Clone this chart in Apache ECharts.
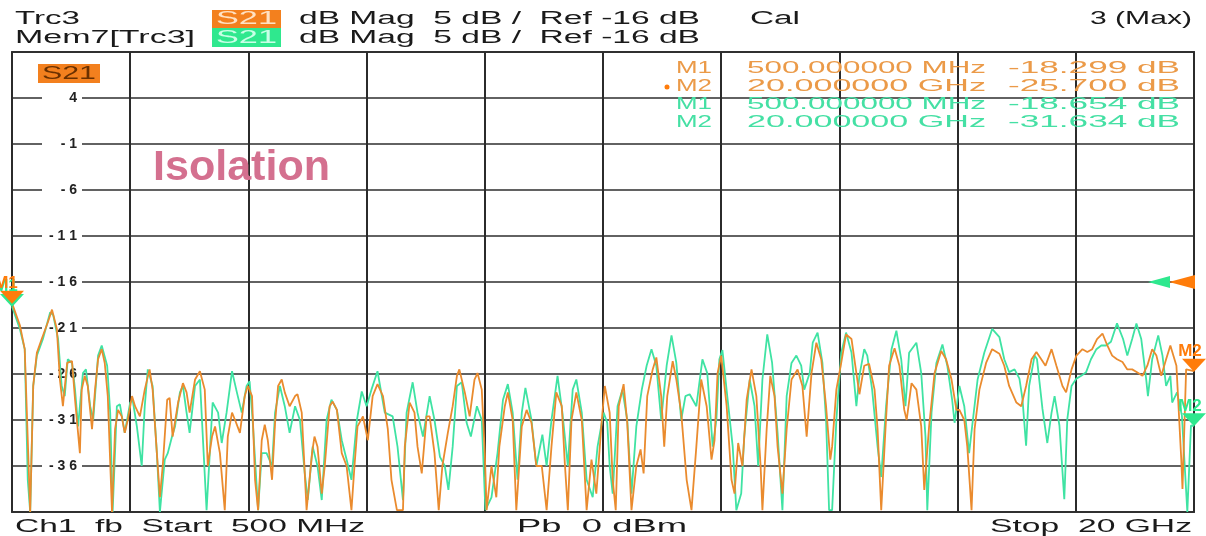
<!DOCTYPE html>
<html>
<head>
<meta charset="utf-8">
<title>S21 Isolation</title>
<script src="https://cdn.jsdelivr.net/npm/echarts@6/dist/echarts.min.js"></script>
<style>
    html, body { margin: 0; padding: 0; background: #fff; }
    #chart { width: 1206px; height: 536px; }
</style>
</head>
<body>
<div id="chart"></div>
<script>
// Trc3 (live trace), frequency in GHz / level in dB
const trcFreq = [
    0.50, 0.63, 0.71, 0.80, 0.85, 0.91, 0.99, 1.09, 1.16, 1.24,
    1.29, 1.34, 1.41, 1.49, 1.54, 1.62, 1.65, 1.70, 1.75, 1.82,
    1.87, 1.92, 1.98, 2.03, 2.08, 2.15, 2.20, 2.25, 2.31, 2.36,
    2.41, 2.48, 2.53, 2.61, 2.69, 2.77, 2.82, 2.89, 2.94, 2.99,
    3.06, 3.10, 3.15, 3.24, 3.32, 3.38, 3.43, 3.52, 3.60, 3.68,
    3.73, 3.80, 3.85, 3.93, 4.01, 4.06, 4.13, 4.18, 4.26, 4.34,
    4.39, 4.46, 4.51, 4.56, 4.62, 4.67, 4.72, 4.79, 4.84, 4.89,
    4.95, 5.00, 5.08, 5.17, 5.21, 5.28, 5.33, 5.36, 5.45, 5.49,
    5.54, 5.61, 5.66, 5.74, 5.79, 5.86, 5.94, 6.02, 6.10, 6.15,
    6.20, 6.29, 6.37, 6.45, 6.53, 6.62, 6.70, 6.76, 6.85, 6.95,
    6.98, 7.06, 7.14, 7.19, 7.26, 7.34, 7.39, 7.47, 7.54, 7.60,
    7.69, 7.77, 7.84, 7.88, 7.97, 8.05, 8.13, 8.18, 8.25, 8.30,
    8.33, 8.41, 8.49, 8.54, 8.63, 8.68, 8.76, 8.82, 8.91, 8.99,
    9.07, 9.15, 9.24, 9.32, 9.40, 9.48, 9.57, 9.62, 9.67, 9.73,
    9.81, 9.90, 9.98, 10.06, 10.14, 10.23, 10.28, 10.36, 10.41, 10.46,
    10.51, 10.59, 10.65, 10.72, 10.80, 10.87, 10.92, 10.98, 11.07, 11.13,
    11.21, 11.26, 11.31, 11.40, 11.46, 11.54, 11.63, 11.71, 11.79, 11.87,
    11.96, 12.04, 12.09, 12.14, 12.20, 12.29, 12.37, 12.42, 12.48, 12.55,
    12.62, 12.70, 12.78, 12.85, 12.88, 12.95, 13.01, 13.08, 13.13, 13.21,
    13.28, 13.36, 13.46, 13.54, 13.61, 13.69, 13.77, 13.85, 13.93, 14.00,
    14.03, 14.10, 14.18, 14.26, 14.35, 14.43, 14.48, 14.56, 14.64, 14.73,
    14.78, 14.84, 14.91, 14.97, 15.06, 15.14, 15.22, 15.26, 15.34, 15.42,
    15.50, 15.55, 15.63, 15.72, 15.83, 15.91, 16.00, 16.08, 16.13, 16.21,
    16.26, 16.33, 16.38, 16.46, 16.57, 16.67, 16.79, 16.87, 16.95, 17.07,
    17.15, 17.23, 17.32, 17.40, 17.48, 17.55, 17.65, 17.73, 17.83, 17.89,
    17.98, 18.06, 18.16, 18.24, 18.32, 18.40, 18.49, 18.57, 18.65, 18.73,
    18.82, 18.90, 18.98, 19.06, 19.15, 19.23, 19.31, 19.38, 19.46, 19.54,
    19.61, 19.71, 19.79, 19.81, 19.87, 20.00
];
const trcDb = [
    -18.3, -20.7, -23.3, -41, -27.3, -23.7, -22.2, -20.4, -19, -21.1,
    -26.6, -29.5, -24.8, -24.6, -28.8, -34.6, -27.7, -26.2, -27.3, -32,
    -27.7, -24.4, -23.3, -24.8, -28.4, -41, -32, -29.9, -30.6, -32.4,
    -31, -28.4, -29.5, -30.6, -27.7, -25.5, -27.7, -34.6, -39.4, -35.7,
    -28.8, -28.6, -32.8, -29.1, -27, -28, -30.2, -26.6, -25.7, -27.7,
    -36, -32.8, -31.7, -34.6, -40.8, -32.8, -30.2, -31, -32.4, -28.4,
    -27.3, -28.4, -37.5, -40.8, -33.2, -31.5, -33.2, -37.5, -31.3, -27.3,
    -26.6, -28, -29.5, -28.4, -28.2, -30.2, -36.8, -40.8, -34.6, -32.8,
    -33.9, -39, -36, -29.5, -29, -29.9, -34.6, -36, -40.8, -36,
    -31.7, -30.6, -33.2, -28.4, -27.1, -28.4, -32, -37.5, -40.8, -40.8,
    -33.9, -29.1, -30.2, -33.9, -36.8, -30.6, -30.6, -34.6, -40.8, -36,
    -32.4, -29.5, -26.2, -25.5, -28, -30.6, -26.6, -25.9, -27.7, -34.6,
    -40.8, -36, -39.4, -33.9, -29.5, -28, -31, -40.8, -31.7, -29.9,
    -31.3, -36, -36, -40.8, -33.9, -28, -29.5, -35.7, -40.8, -31,
    -28, -31, -40.8, -35.3, -39, -31, -27.3, -30.2, -37.5, -40.8,
    -29.5, -27.1, -31.3, -40.8, -36, -34.2, -36.8, -28.4, -25.5, -24.2,
    -28.4, -33.9, -28.4, -24.6, -26.6, -30.2, -37.5, -40.8, -33.9, -26.6,
    -29.5, -35.3, -33.2, -25.9, -24, -29.5, -37.5, -39, -33.5, -36,
    -28.8, -25.5, -28.4, -36, -40.8, -32, -26.2, -28.4, -33.9, -39,
    -32, -26.6, -25.5, -27.3, -32.8, -25.9, -22.6, -24.4, -29.5, -35.3,
    -33.9, -27.7, -24.8, -21.7, -22.2, -25.9, -28.2, -25.1, -24.9, -27.7,
    -32, -40.8, -32, -25.1, -23.2, -25.1, -29.9, -31, -27, -27.7,
    -31.7, -38.6, -31.7, -25.9, -23.5, -24.4, -26.6, -29.9, -29.9, -31,
    -33.9, -40.8, -32, -27.7, -24.8, -23.3, -23.8, -25.1, -27.3, -29.1,
    -29.5, -27.3, -24.4, -23.6, -24.4, -25.1, -23.3, -25.1, -27.3, -28,
    -25.5, -24, -23.3, -23.6, -23.3, -22.2, -21.6, -22.9, -24, -24.4,
    -24.7, -25.5, -25.5, -25.8, -26.2, -25.1, -23.3, -24, -26.2, -24.4,
    -22.9, -25.1, -35.3, -38.5, -25.5, -25.7
];

// Mem7[Trc3] (memory trace)
const memFreq = [
    0.50, 0.63, 0.71, 0.76, 0.80, 0.85, 0.91, 1.01, 1.13, 1.18,
    1.26, 1.32, 1.37, 1.42, 1.49, 1.54, 1.59, 1.67, 1.72, 1.79,
    1.84, 1.92, 1.98, 2.07, 2.12, 2.16, 2.23, 2.28, 2.36, 2.45,
    2.49, 2.56, 2.64, 2.69, 2.74, 2.82, 2.89, 2.94, 3.02, 3.07,
    3.14, 3.19, 3.27, 3.32, 3.38, 3.43, 3.52, 3.60, 3.71, 3.81,
    3.90, 3.96, 4.04, 4.13, 4.21, 4.29, 4.37, 4.42, 4.47, 4.56,
    4.62, 4.70, 4.79, 4.84, 4.92, 5.00, 5.08, 5.17, 5.25, 5.33,
    5.38, 5.46, 5.54, 5.61, 5.69, 5.77, 5.86, 5.94, 6.02, 6.10,
    6.19, 6.27, 6.35, 6.43, 6.53, 6.65, 6.78, 6.86, 6.95, 7.01,
    7.11, 7.19, 7.28, 7.39, 7.47, 7.56, 7.64, 7.70, 7.77, 7.84,
    7.92, 8.00, 8.07, 8.17, 8.25, 8.31, 8.41, 8.51, 8.60, 8.68,
    8.76, 8.84, 8.91, 8.97, 9.07, 9.15, 9.25, 9.32, 9.40, 9.50,
    9.58, 9.67, 9.75, 9.81, 9.90, 9.98, 10.08, 10.16, 10.26, 10.32,
    10.36, 10.41, 10.49, 10.57, 10.65, 10.72, 10.80, 10.89, 10.97, 11.05,
    11.13, 11.21, 11.30, 11.38, 11.46, 11.54, 11.61, 11.68, 11.79, 11.89,
    11.97, 12.06, 12.12, 12.17, 12.22, 12.30, 12.39, 12.45, 12.53, 12.58,
    12.67, 12.75, 12.81, 12.88, 12.96, 13.04, 13.13, 13.21, 13.28, 13.36,
    13.44, 13.52, 13.57, 13.66, 13.71, 13.79, 13.87, 13.93, 13.98, 14.03,
    14.10, 14.18, 14.26, 14.35, 14.43, 14.48, 14.56, 14.61, 14.69, 14.78,
    14.84, 14.92, 15.01, 15.09, 15.17, 15.24, 15.30, 15.42, 15.50, 15.57,
    15.60, 15.67, 15.75, 15.85, 15.93, 16.01, 16.05, 16.13, 16.21, 16.29,
    16.34, 16.43, 16.54, 16.67, 16.79, 16.87, 16.95, 17.04, 17.12, 17.17,
    17.23, 17.28, 17.37, 17.41, 17.50, 17.58, 17.65, 17.70, 17.78, 17.86,
    17.91, 17.98, 18.06, 18.14, 18.22, 18.30, 18.39, 18.47, 18.55, 18.63,
    18.73, 18.83, 18.90, 18.98, 19.05, 19.13, 19.21, 19.24, 19.31, 19.41,
    19.48, 19.54, 19.61, 19.64, 19.72, 19.80, 19.89, 19.95, 20.00
];
const memDb = [
    -18.65, -21.1, -23.3, -37.5, -41, -27.3, -24, -22.2, -19.3, -19.6,
    -22.2, -27.3, -28.4, -24.4, -24.8, -27.7, -31.7, -25.9, -25.5, -29.5,
    -31, -24, -22.9, -25.1, -30.2, -41, -29.5, -29.3, -32.4, -29.1,
    -28.8, -31.7, -36, -29.5, -25.5, -27.3, -34.6, -41, -35.3, -34.6,
    -32.8, -31.7, -28, -27.3, -30.2, -32.4, -27.3, -26.6, -40.8, -29.1,
    -30.2, -33.5, -30.2, -25.7, -28, -30.2, -27.3, -26.8, -31, -40.8,
    -34.6, -34.6, -36, -30.2, -27.3, -29.5, -32.4, -29.5, -31, -36.8,
    -39.7, -33.9, -36, -39.7, -31, -28.8, -29.9, -33.2, -35.3, -37.5,
    -31, -27.9, -29.5, -27.7, -25.7, -30.2, -30.6, -33.9, -39.7, -30.2,
    -26.9, -30.2, -32.8, -28.4, -31, -35, -36, -38.6, -33.9, -27.3,
    -26.9, -31.3, -32.8, -29.5, -31, -40.8, -39.4, -34.6, -28.8, -27.1,
    -30.2, -37.5, -30.2, -27.5, -31, -36, -32.6, -36, -31, -26.2,
    -30.2, -36, -27.7, -26.6, -30.2, -37.5, -39.4, -33.9, -30.2, -31.3,
    -36, -39, -29.5, -27.7, -31, -39, -31.7, -27.7, -25.1, -23.3,
    -25.1, -31, -25.1, -21.8, -24.8, -31, -28.4, -28.2, -29.5, -24.4,
    -25.9, -33.9, -31, -24.4, -23.4, -28.4, -33.9, -40.8, -39, -32.8,
    -26.6, -29.5, -36, -26.6, -21.7, -24.8, -32.4, -40.8, -28.4, -24.8,
    -24, -25.1, -27.7, -25.9, -22.6, -21.5, -24.8, -31, -40.8, -40.8,
    -31, -23.7, -21.5, -23.7, -29.5, -26.2, -23.3, -24, -27.7, -33.9,
    -37.2, -29.5, -23.3, -21.3, -24.4, -29.5, -23.7, -22.6, -25.9, -32.8,
    -40.8, -30.2, -24.8, -22.8, -25.1, -28.8, -31.3, -27.3, -29.5, -34.6,
    -31.7, -26.6, -23.7, -21.1, -22, -24.4, -25.8, -25.5, -26.5, -28.7,
    -33.8, -27.3, -24, -24.4, -29.8, -33.5, -30.2, -28.4, -31.6, -39.6,
    -30.9, -27.3, -26.5, -26.2, -25.8, -24.4, -23.3, -22.9, -22.9, -22.5,
    -20.5, -22.2, -24, -22.2, -20.5, -22.2, -26.5, -28.4, -24.4, -21.8,
    -24, -27.3, -26.2, -29.1, -28, -30.5, -41, -31.6, -31.634
];

// grid line labels from top to bottom (Ref -16 dB, 5 dB/div)
const yTickLabels = [4, -1, -6, -11, -16, -21, -26, -31, -36];
const refLevel = -16;

// markers
const markerNames = ['M1', 'M2'];
const markerFreq = [0.5, 20];
const markerStim = ['500.000000 MHz', '20.000000 GHz'];
const trcMarkerDb = [-18.299, -25.700];
const memMarkerDb = [-18.654, -31.634];

const ORANGE = '#ea8b2e';
const ORANGE_MK = '#ff7c0a';
const GREEN = '#3fe3a3';
const GREEN_MK = '#2ee88e';
const FONT = '"Liberation Sans", Arial, sans-serif';

const zip = (xs, ys) => xs.map((x, i) => [x, ys[i]]);

// the analyzer screen is stretched sideways, so texts are scaled to their width
const measureCtx = document.createElement('canvas').getContext('2d');
function stretchText(str, left, right, y, color, font, z) {
    measureCtx.font = font;
    const w = measureCtx.measureText(str).width;
    return {
        type: 'text', x: left, y: y, scaleX: (right - left) / w, z: z || 10,
        style: { text: str, font: font, fill: color, verticalAlign: 'middle', textVerticalAlign: 'middle' }
    };
}
function box(x, y, w, h, color) {
    return { type: 'rect', shape: { x: x, y: y, width: w, height: h }, style: { fill: color }, z: 9 };
}

const hdrFont = '18px ' + FONT;
const mkFont = '17px ' + FONT;
const graphic = [
    // header
    stretchText('Trc3', 15, 80, 19, '#1a1a1a', hdrFont),
    box(212, 10, 69, 18, '#f3801e'),
    stretchText('S21', 216, 277, 19, '#ffe2c4', hdrFont),
    stretchText('dB Mag  5 dB /  Ref -16 dB', 299, 700, 19, '#1a1a1a', hdrFont),
    stretchText('Cal', 750, 800, 19, '#1a1a1a', hdrFont),
    stretchText('3 (Max)', 1090, 1192, 19, '#1a1a1a', hdrFont),
    stretchText('Mem7[Trc3]', 15, 195, 38, '#1a1a1a', hdrFont),
    box(212, 28, 69, 19, '#2fe88e'),
    stretchText('S21', 216, 277, 38, '#c9ffe6', hdrFont),
    stretchText('dB Mag  5 dB /  Ref -16 dB', 299, 700, 38, '#1a1a1a', hdrFont),
    // footer
    stretchText('Ch1  fb  Start  500 MHz', 15, 365, 527, '#1a1a1a', hdrFont),
    stretchText('Pb  0 dBm', 517, 687, 527, '#1a1a1a', hdrFont),
    stretchText('Stop  20 GHz', 990, 1192, 527, '#1a1a1a', hdrFont),
    // trace label in the diagram
    box(38, 64, 62, 19, '#f3801e'),
    stretchText('S21', 42, 96, 74, '#6a3000', hdrFont),
    // annotation
    stretchText('Isolation', 153, 330, 168, '#d4708f', 'bold 42px ' + FONT, 20),
    // active marker dot
    { type: 'circle', shape: { cx: 667, cy: 87, r: 2.5 }, style: { fill: ORANGE_MK }, z: 10 }
];
// marker table
[[trcMarkerDb, '#eb9a48', 68], [memMarkerDb, '#45e0a4', 104]].forEach(([vals, color, y0]) => {
    markerNames.forEach((name, i) => {
        const y = y0 + i * 18;
        graphic.push(stretchText(name, 676, 712, y, color, mkFont));
        graphic.push(stretchText(markerStim[i], 747, 986, y, color, mkFont));
        graphic.push(stretchText(vals[i].toFixed(3) + ' dB', 1008, 1180, y, color, mkFont));
    });
});

function markerPoint(freq, db, name, color, labelOffset) {
    return {
        name: name, coord: [freq, db],
        symbol: 'triangle', symbolRotate: 180, symbolSize: [24, 13], symbolOffset: [0, -6],
        itemStyle: { color: color },
        label: {
            show: true, formatter: name, position: 'top', offset: labelOffset,
            color: color, fontSize: 17, fontWeight: 'bold', fontFamily: FONT
        }
    };
}
function refArrow(color, dx, size) {
    return {
        coord: [20, refLevel], symbol: 'triangle', symbolRotate: 90,
        symbolSize: size, symbolOffset: [dx, 0],
        itemStyle: { color: color }, label: { show: false }
    };
}

const chart = echarts.init(document.getElementById('chart'), null, { renderer: 'canvas' });
const option = {
    animation: false,
    backgroundColor: '#fff',
    grid: { left: 12, right: 12, top: 52, bottom: 24, show: true, borderColor: '#3a3a3a', borderWidth: 2, backgroundColor: '#fff' },
    xAxis: [
        { type: 'value', min: 0.5, max: 20, show: false },
        // 10 divisions for the vertical grid
        {
            type: 'value', min: 0, max: 10, interval: 1, position: 'bottom',
            axisLine: { show: false }, axisTick: { show: false }, axisLabel: { show: false },
            splitLine: { show: true, lineStyle: { color: '#2b2b2b', width: 2 } }
        }
    ],
    yAxis: [
        { type: 'value', min: -41, max: 9, show: false },
        {
            type: 'value', min: 0, max: 10, interval: 1, position: 'left',
            axisLine: { show: false }, axisTick: { show: false },
            splitLine: { show: true, lineStyle: { color: '#2e2e2e', width: 1.5 } },
            axisLabel: {
                inside: true, margin: 70, align: 'right', width: 32,
                showMinLabel: false, showMaxLabel: false,
                padding: [1, 5, 1, 3], backgroundColor: '#fff',
                color: '#222', fontSize: 14, fontWeight: 'bold', fontFamily: FONT,
                formatter: v => (v <= 0 || v >= 10) ? '' : String(yTickLabels[9 - v]).split('').join(' ')
            }
        }
    ],
    graphic: graphic,
    series: [
        {
            name: 'Mem7[Trc3]', type: 'line', xAxisIndex: 0, yAxisIndex: 0,
            data: zip(memFreq, memDb), showSymbol: false, z: 3,
            lineStyle: { color: GREEN, width: 1.8 },
            markPoint: {
                data: [
                    markerPoint(markerFreq[0], memMarkerDb[0], 'M1', GREEN_MK, [-6, 6]),
                    markerPoint(markerFreq[1], memMarkerDb[1], 'M2', GREEN_MK, [-4, 6]),
                    refArrow(GREEN_MK, -35, [12, 22])
                ]
            }
        },
        {
            name: 'Trc3', type: 'line', xAxisIndex: 0, yAxisIndex: 0,
            data: zip(trcFreq, trcDb), showSymbol: false, z: 4,
            lineStyle: { color: ORANGE, width: 1.8 },
            markPoint: {
                data: [
                    markerPoint(markerFreq[0], trcMarkerDb[0], 'M1', ORANGE_MK, [-6, 6]),
                    markerPoint(markerFreq[1], trcMarkerDb[1], 'M2', ORANGE_MK, [-4, 6]),
                    refArrow(ORANGE_MK, -12, [14, 26])
                ]
            }
        }
    ]
};
chart.setOption(option);
</script>
</body>
</html>
